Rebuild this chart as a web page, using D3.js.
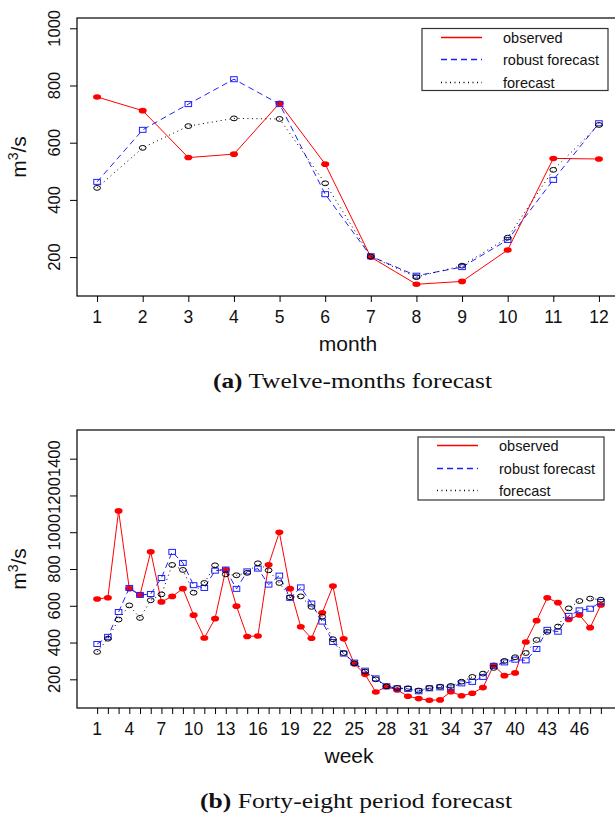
<!DOCTYPE html>
<html><head><meta charset="utf-8">
<script src="https://cdn.jsdelivr.net/npm/d3@7/dist/d3.min.js"></script>
<style>
body{margin:0;background:#fff}
text{font-family:"Liberation Sans",Arial,Helvetica,sans-serif;fill:#111}
.cap{font-family:"Liberation Serif","Times New Roman",serif}
</style>
</head><body>
<svg id="chart" width="615" height="817"></svg>
<script>
// ---- Panel (a): twelve months ----
const months = d3.range(1, 13);
const monthObserved = [760, 712, 548, 560, 738, 525, 200, 105, 115, 225, 545, 543];
const monthRobust   = [463, 645, 735, 822, 735, 420, 203, 135, 165, 260, 470, 668];
const monthForecast = [442, 582, 658, 685, 683, 458, 202, 130, 170, 268, 505, 662];
const monthYTicks = [200, 400, 600, 800, 1000];
const monthXTicks = d3.range(1, 13);
const monthXLabels = d3.range(1, 13);

// ---- Panel (b): forty-eight weeks ----
const weeks = d3.range(1, 49);
const weekObserved = [637, 644, 1116, 693, 659, 894, 621, 651, 693, 549, 425, 530,
  796, 598, 433, 436, 823, 1000, 693, 486, 423, 562, 707, 420,
  284, 227, 131, 160, 142, 108, 95, 86, 88, 133, 111, 124,
  155, 276, 220, 235, 403, 519, 643, 617, 525, 550, 481, 604];
const weekRobust = [392, 431, 566, 697, 659, 664, 751, 893, 833, 712, 697, 791,
  797, 692, 787, 802, 715, 764, 643, 700, 612, 514, 403, 340,
  291, 247, 205, 162, 151, 148, 135, 151, 156, 156, 178, 186,
  213, 273, 292, 307, 303, 365, 469, 459, 545, 575, 584, 621];
const weekForecast = [349, 421, 525, 602, 534, 630, 662, 822, 795, 671, 724, 820,
  771, 766, 779, 831, 793, 724, 646, 651, 594, 541, 418, 343,
  287, 242, 200, 162, 153, 151, 139, 153, 160, 164, 187, 213,
  231, 262, 300, 320, 343, 414, 458, 487, 586, 626, 639, 633];
const weekYTicks = [200, 400, 600, 800, 1000, 1200, 1400];
const weekXTicks = d3.range(1, 49);
const weekXLabels = d3.range(1, 49, 3);

const legendLabels = ["observed", "robust forecast", "forecast"];
const seriesColors = ["#ff0000", "#2020ff", "#000000"];
const seriesDash = [null, "6,4", "1,3.5"];

const svg = d3.select("#chart");

function panel(o) {
  const g = svg.append("g");
  const x = d3.scaleLinear().domain(o.xDomain).range([77, o.right]);
  const y = d3.scaleLinear().domain(o.yDomain).range([o.bottom, o.top]);

  // frame
  g.append("rect").attr("x", 77).attr("y", o.top)
    .attr("width", o.right - 77).attr("height", o.bottom - o.top)
    .attr("fill", "none").attr("stroke", "#000").attr("stroke-width", 1.2);

  // x axis
  const xa = g.append("g").attr("transform", `translate(0,${o.bottom})`)
    .call(d3.axisBottom(x).tickValues(o.xTicks).tickSize(6).tickFormat(""));
  xa.select(".domain").remove();
  xa.selectAll("line").attr("stroke", "#000");
  g.append("g").selectAll("text").data(o.xLabels).join("text")
    .attr("x", d => x(d)).attr("y", o.bottom + 27)
    .attr("text-anchor", "middle").attr("font-size", 17.5)
    .text(d => d);

  // y axis
  const ya = g.append("g").attr("transform", "translate(77,0)")
    .call(d3.axisLeft(y).tickValues(o.yTicks).tickSize(7).tickFormat(""));
  ya.select(".domain").remove();
  ya.selectAll("line").attr("stroke", "#000");
  g.append("g").selectAll("text").data(o.yTicks).join("text")
    .attr("transform", d => `translate(60,${y(d)}) rotate(-90)`)
    .attr("text-anchor", "middle").attr("font-size", 16.5)
    .text(d => d);

  // axis titles
  g.append("text").attr("x", (77 + o.right) / 2).attr("y", o.bottom + 55)
    .attr("text-anchor", "middle").attr("font-size", 21).text(o.xTitle);
  const yt = g.append("text")
    .attr("transform", `translate(26,${(o.top + o.bottom) / 2}) rotate(-90)`)
    .attr("text-anchor", "middle").attr("font-size", 21);
  yt.append("tspan").text("m");
  yt.append("tspan").attr("dy", -8).attr("font-size", 14).text("3");
  yt.append("tspan").attr("dy", 8).text("/s");

  const lineGen = vals => d3.line().x((d, i) => x(o.xs[i])).y(d => y(d))(vals);

  // observed
  g.append("path").attr("d", lineGen(o.obs)).attr("fill", "none")
    .attr("stroke", seriesColors[0]).attr("stroke-width", 1);
  g.append("g").selectAll("ellipse").data(o.obs).join("ellipse")
    .attr("cx", (d, i) => x(o.xs[i])).attr("cy", d => y(d))
    .attr("rx", 4).attr("ry", 2.8).attr("fill", seriesColors[0]);

  // robust
  g.append("path").attr("d", lineGen(o.rob)).attr("fill", "none")
    .attr("stroke", seriesColors[1]).attr("stroke-width", 1).attr("stroke-dasharray", seriesDash[1]);
  g.append("g").selectAll("rect").data(o.rob).join("rect")
    .attr("x", (d, i) => x(o.xs[i]) - 3.3).attr("y", d => y(d) - 2.5)
    .attr("width", 6.6).attr("height", 5)
    .attr("fill", "none").attr("stroke", seriesColors[1]).attr("stroke-width", 1);

  // forecast
  g.append("path").attr("d", lineGen(o.fc)).attr("fill", "none")
    .attr("stroke", seriesColors[2]).attr("stroke-width", 1).attr("stroke-dasharray", seriesDash[2]);
  g.append("g").selectAll("ellipse").data(o.fc).join("ellipse")
    .attr("cx", (d, i) => x(o.xs[i])).attr("cy", d => y(d))
    .attr("rx", 3.4).attr("ry", 2.4)
    .attr("fill", "none").attr("stroke", seriesColors[2]).attr("stroke-width", 1);

  // legend
  const L = o.legend;
  const lg = g.append("g");
  lg.append("rect").attr("x", L.x).attr("y", L.y).attr("width", L.w).attr("height", L.h)
    .attr("fill", "#fff").attr("stroke", "#333").attr("stroke-width", 1.2);
  legendLabels.forEach((lab, i) => {
    const yy = Math.round(L.y + 8 + i * 22.5) + 0.5;
    const ln = lg.append("line").attr("x1", L.x + 19).attr("x2", L.x + 60)
      .attr("y1", yy).attr("y2", yy)
      .style("stroke", seriesColors[i]).style("stroke-width", 1.3);
    if (seriesDash[i]) ln.style("stroke-dasharray", seriesDash[i]);
    lg.append("text").attr("x", L.x + 81).attr("y", yy + 5)
      .attr("font-size", 14.5).text(lab);
  });

  // caption
  const c = g.append("text").attr("class", "cap")
    .attr("x", o.capX).attr("y", o.capY)
    .attr("font-size", 20)
    .attr("textLength", o.capW).attr("lengthAdjust", "spacingAndGlyphs");
  c.append("tspan").attr("font-weight", "bold").text(o.capBold);
  c.append("tspan").text(" " + o.capText);
}

panel({
  xs: months, obs: monthObserved, rob: monthRobust, fc: monthForecast,
  xDomain: [0.56, 12.44], yDomain: [64, 1036],
  top: 18, bottom: 296, right: 619,
  xTicks: monthXTicks, xLabels: monthXLabels, yTicks: monthYTicks,
  xTitle: "month",
  legend: {x: 422, y: 28.5, w: 186, h: 62},
  capX: 213, capY: 388, capW: 279, capBold: "(a)", capText: "Twelve-months forecast"
});

panel({
  xs: weeks, obs: weekObserved, rob: weekRobust, fc: weekForecast,
  xDomain: [-0.88, 49.88], yDomain: [44, 1556],
  top: 430, bottom: 708, right: 621,
  xTicks: weekXTicks, xLabels: weekXLabels, yTicks: weekYTicks,
  xTitle: "week",
  legend: {x: 418, y: 437, w: 186, h: 63},
  capX: 200, capY: 808, capW: 312, capBold: "(b)", capText: "Forty-eight period forecast"
});
</script>
</body></html>
